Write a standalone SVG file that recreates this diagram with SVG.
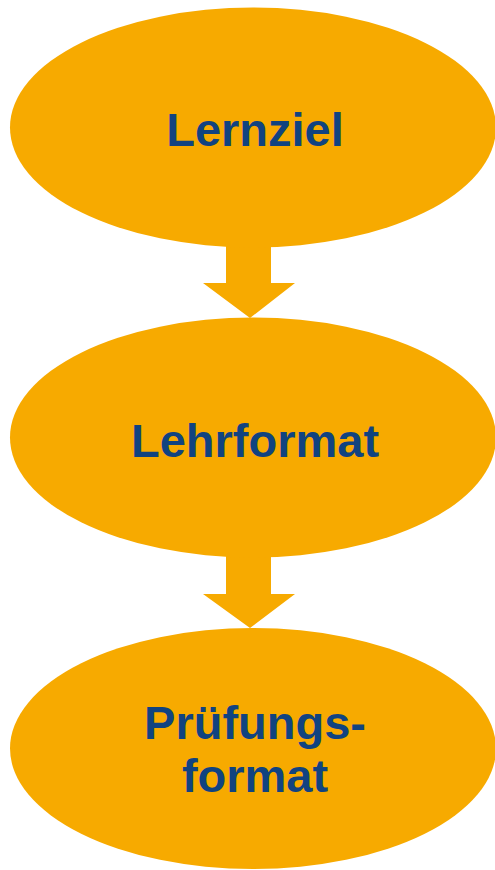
<svg xmlns="http://www.w3.org/2000/svg" width="495" height="870" viewBox="0 0 495 870">
<style>
.n{fill:#F7AA00}
.a{fill:#F7AA00}
.t{font-family:"Liberation Sans",Arial,sans-serif;font-weight:bold;font-size:47px;fill:#114380;text-anchor:middle}
</style>
<rect width="495" height="870" fill="#fff"/>
<g id="connectors">
<polygon class="a" points="226,240 271,240 271,283 295,283 250,318 203,283 226,283"/>
<polygon class="a" points="226,550 271,550 271,594 295,594 250,628 203,594 226,594"/>
</g>
<g id="lernziel">
<ellipse class="n" cx="253" cy="127.5" rx="243" ry="120"/>
<text class="t" x="255" y="146">Lernziel</text>
</g>
<g id="lehrformat">
<ellipse class="n" cx="253" cy="437.5" rx="243" ry="120"/>
<text class="t" x="255" y="457">Lehrformat</text>
</g>
<g id="pruefungsformat">
<ellipse class="n" cx="253" cy="748.5" rx="243" ry="120.5"/>
<text class="t" x="255" y="739">Prüfungs-</text>
<text class="t" x="255" y="792">format</text>
</g>
</svg>
